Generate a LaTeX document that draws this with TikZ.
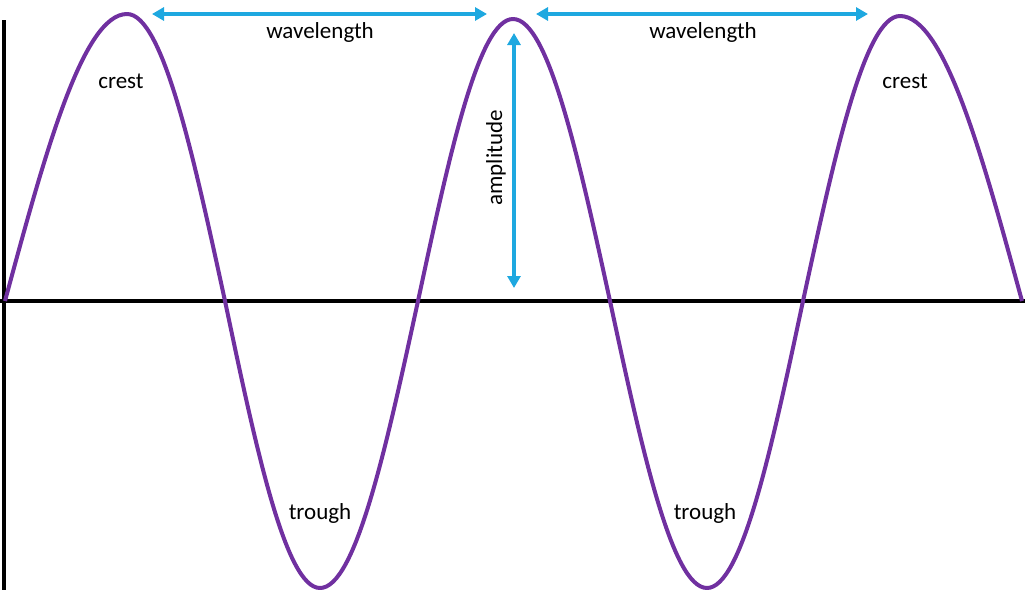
\documentclass[tikz,border=0pt]{standalone}
\usepackage{fontspec}
\setmainfont{Carlito}
\usetikzlibrary{arrows.meta}
\definecolor{wavepurple}{RGB}{112,48,160}
\definecolor{arrowblue}{RGB}{30,168,224}
\begin{document}
\begin{tikzpicture}[x=1pt,y=-1pt,
  axisline/.style={line width=4.2pt,black},
  waveline/.style={line width=4pt,wavepurple,line join=round},
  dimarrow/.style={line width=3.2pt,arrowblue,{Triangle[length=12pt,width=13pt]}-{Triangle[length=12pt,width=13pt]}},
  lbl/.style={font=\fontsize{23}{27}\selectfont,inner sep=0pt,text=black}]
\useasboundingbox (0,0) rectangle (1025,595);
% axes
\coordinate (vtop) at (4,20);
\coordinate (vbot) at (4,590);
\coordinate (hl) at (0,301);
\coordinate (hr) at (1025,301);
\draw[axisline] (vtop) -- (vbot);
\draw[axisline] (hl) -- (hr);
% wave
\coordinate (z0) at (5,301);
\coordinate (c1) at (127,14);
\coordinate (z1) at (225,301);
\coordinate (t1) at (320,588);
\coordinate (z2) at (418,301);
\coordinate (c2) at (513,19);
\coordinate (z3) at (610,301);
\coordinate (t2) at (707,588);
\coordinate (z4) at (803,301);
\coordinate (c3) at (900,16);
\coordinate (z5) at (1022,301);
\draw[waveline] (z0) sin (c1) cos (z1) sin (t1) cos (z2) sin (c2) cos (z3) sin (t2) cos (z4) sin (c3) cos (z5);
% dimension arrows
\coordinate (w1a) at (152,14);
\coordinate (w1b) at (487,14);
\coordinate (w2a) at (536,14);
\coordinate (w2b) at (868,14);
\coordinate (aa) at (514,33);
\coordinate (ab) at (514,288);
\draw[dimarrow] (w1a) -- (w1b);
\draw[dimarrow] (w2a) -- (w2b);
\draw[dimarrow] (aa) -- (ab);
% labels
\node[lbl] (wl1) at (320,32) {wavelength};
\node[lbl] (wl2) at (703,32) {wavelength};
\node[lbl] (cr1) at (121,81) {crest};
\node[lbl] (cr2) at (905,81) {crest};
\node[lbl] (tr1) at (320,513) {trough};
\node[lbl] (tr2) at (705,513) {trough};
\node[lbl,rotate=90] (amp) at (496,158) {amplitude};
\end{tikzpicture}
\end{document}
